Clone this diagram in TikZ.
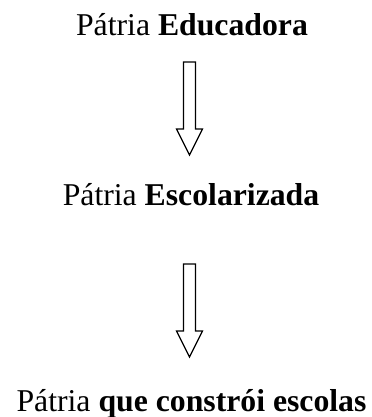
\documentclass[tikz,border=0pt]{standalone}
\usepackage{fontspec}
\setmainfont{Liberation Serif}
\usetikzlibrary{calc}
\tikzset{
    titulo/.style={font=\fontsize{23.8}{28}\selectfont, inner sep=0pt, anchor=base},
    seta/.style={draw, line width=0.9pt, line join=miter},
}
% hollow down arrow from shaft top (#1) to tip (#2)
\newcommand{\setaoca}[2]{%
    \draw[seta] ($(#1)+(-6,0)$) -- ($(#2)+(-6,-26)$) -- ($(#2)+(-13,-26)$)
        -- (#2) -- ($(#2)+(13,-26)$) -- ($(#2)+(6,-26)$) -- ($(#1)+(6,0)$) -- cycle;
}

\begin{document}
\begin{tikzpicture}[x=0.75pt, y=-0.75pt]
\useasboundingbox (0,0) rectangle (371,417);

% Texts
\node[titulo] (t1) at (192,36) {Pátria \textbf{Educadora}};
\node[titulo] (t2) at (191,205) {Pátria \textbf{Escolarizada}};
\node[titulo] (t3) at (191.5,411) {Pátria \textbf{que constrói escolas}};

% Arrows
\coordinate (s1a) at (189.5,62);
\coordinate (s1b) at (189.5,155);
\coordinate (s2a) at (189.5,264);
\coordinate (s2b) at (189.5,357);
\setaoca{s1a}{s1b}
\setaoca{s2a}{s2b}
\end{tikzpicture}
\end{document}
